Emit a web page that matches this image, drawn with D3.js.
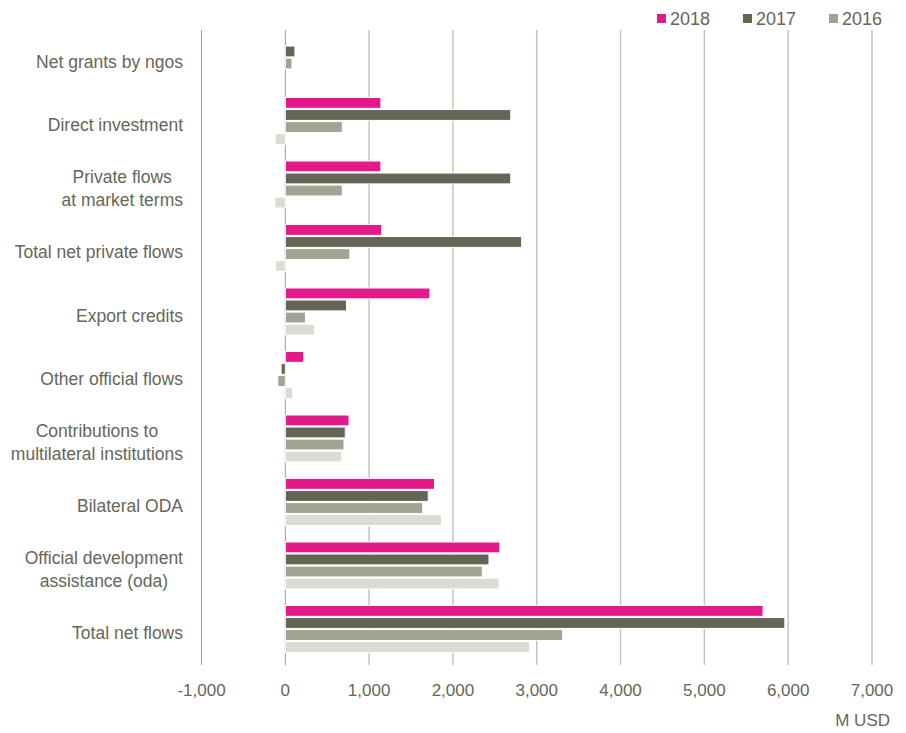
<!DOCTYPE html>
<html>
<head>
<meta charset="utf-8">
<script src="https://cdn.jsdelivr.net/npm/d3@7"></script>
<style>
  body { margin: 0; background: #fff; }
  svg text { font-family: "Liberation Sans Narrow", "Arial Narrow", "Liberation Sans", sans-serif; fill: #66665a; }
</style>
</head>
<body>
<div class="chart"></div>
<script>
var categories = [
  ["Net grants by ngos"],
  ["Direct investment"],
  ["Private flows", "at market terms"],
  ["Total net private flows"],
  ["Export credits"],
  ["Other official flows"],
  ["Contributions to", "multilateral institutions"],
  ["Bilateral ODA"],
  ["Official development", "assistance (oda)"],
  ["Total net flows"]
];
var series = ["2018", "2017", "2016", "2015"];
var legendSeries = ["2018", "2017", "2016"];
var values2018 = [0, 1140, 1140, 1150, 1725, 220, 760, 1780, 2560, 5700];
var values2017 = [115, 2690, 2690, 2820, 730, -50, 715, 1705, 2430, 5960];
var values2016 = [80, 680, 680, 770, 240, -90, 700, 1640, 2350, 3310];
var values2015 = [0, -120, -125, -115, 350, 90, 675, 1865, 2550, 2915];
var xTicks = [-1000, 0, 1000, 2000, 3000, 4000, 5000, 6000, 7000];

var colors = { "2018": "#e3198a", "2017": "#646555", "2016": "#a3a393", "2015": "#dcdcd4" };
var valuesBySeries = { "2018": values2018, "2017": values2017, "2016": values2016, "2015": values2015 };

var width = 906, height = 733;
var plotTop = 30, plotBottom = 665;

var svg = d3.select(".chart").append("svg")
  .attr("width", width)
  .attr("height", height);

var x = d3.scaleLinear().domain([-1000, 7000]).range([201.5, 872]);
var keys = categories.map(function(d, i) { return i; });
var y0 = d3.scaleBand().domain(keys).range([plotTop, plotBottom]);
var y1 = d3.scaleBand().domain(series).range([4, 51]).paddingInner(0.1);

// gridlines
svg.append("g").selectAll("line")
  .data(xTicks)
  .enter().append("line")
    .attr("x1", function(d) { return x(d); })
    .attr("x2", function(d) { return x(d); })
    .attr("y1", plotTop)
    .attr("y2", plotBottom)
    .attr("stroke", function(d) { return d <= 0 ? "#9e9e92" : "#c4c4bb"; })
    .attr("stroke-width", function(d) { return d <= 0 ? 1 : 1.5; });

// bars
var rows = [];
keys.forEach(function(k) {
  series.forEach(function(s) {
    rows.push({ cat: k, series: s, value: valuesBySeries[s][k] });
  });
});

svg.append("g").selectAll("rect")
  .data(rows.filter(function(d) { return d.value !== 0; }))
  .enter().append("rect")
    .attr("x", function(d) { return x(Math.min(0, d.value)); })
    .attr("y", function(d) { return y0(d.cat) + y1(d.series); })
    .attr("width", function(d) { return Math.abs(x(d.value) - x(0)); })
    .attr("height", y1.bandwidth())
    .attr("fill", function(d) { return colors[d.series]; })
    .attr("stroke", "#fff")
    .attr("stroke-width", 1);

// category labels
var labelRight = 183;
var labels = svg.append("g").selectAll("g")
  .data(categories)
  .enter().append("g");

labels.each(function(lines, i) {
  var g = d3.select(this);
  var lineH = 23;
  var cy = y0(i) + y0.bandwidth() / 2;
  var texts = g.selectAll("text")
    .data(lines)
    .enter().append("text")
      .style("font-size", "17.5px")
      .attr("text-anchor", "middle")
      .attr("dy", "0.35em")
      .attr("y", function(d, j) { return cy + (j - (lines.length - 1) / 2) * lineH; })
      .text(function(d) { return d; });
  var maxW = 0;
  texts.each(function() { maxW = Math.max(maxW, this.getComputedTextLength()); });
  texts.attr("x", labelRight - maxW / 2);
});

// x axis labels
var fmt = d3.format(",");
svg.append("g").selectAll("text")
  .data(xTicks)
  .enter().append("text")
    .attr("x", function(d) { return x(d); })
    .attr("y", 690)
    .attr("dy", "0.35em")
    .attr("text-anchor", "middle")
    .style("font-size", "17px")
    .text(function(d) { return fmt(d).replace("\u2212", "-"); });

svg.append("text")
  .attr("x", 890)
  .attr("y", 720)
  .attr("dy", "0.35em")
  .attr("text-anchor", "end")
  .style("font-size", "17px")
  .text("M USD");

// legend
var legendX = [657, 743, 829];
var legend = svg.append("g").selectAll("g")
  .data(legendSeries)
  .enter().append("g")
    .attr("transform", function(d, i) { return "translate(" + legendX[i] + ",0)"; });

legend.append("rect")
  .attr("x", 0)
  .attr("y", 14)
  .attr("width", 9)
  .attr("height", 9)
  .attr("fill", function(d) { return colors[d]; });

legend.append("text")
  .attr("x", 13)
  .attr("y", 19)
  .attr("dy", "0.35em")
  .style("font-size", "18px")
  .text(function(d) { return d; });
</script>
</body>
</html>
